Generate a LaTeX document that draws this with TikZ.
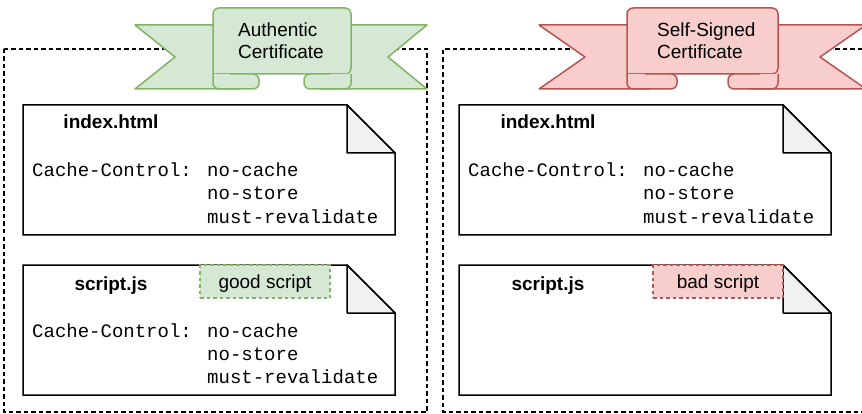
\documentclass[tikz,border=0pt]{standalone}
\usepackage{fontspec}
\setmainfont{Liberation Sans}
\setmonofont{Liberation Mono}
\definecolor{greenfill}{HTML}{D5E8D4}
\definecolor{greenline}{HTML}{82B366}
\definecolor{redfill}{HTML}{F8CECC}
\definecolor{redline}{HTML}{B85450}
\definecolor{foldgray}{HTML}{F1F1F1}

\begin{document}
\begin{tikzpicture}[x=1pt,y=-1pt,
  side_box/.style={draw,line width=1.4pt,dash pattern=on 4.5pt off 3pt},
  note_box/.style={draw,line width=1.5pt,fill=white},
  fold_box/.style={draw,line width=1.5pt,fill=foldgray,line join=round},
  good_rib/.style={draw=greenline,fill=greenfill,line width=1.5pt,line join=round},
  bad_rib/.style={draw=redline,fill=redfill,line width=1.5pt,line join=round},
  rib_text/.style={anchor=base west,inner sep=0pt,font=\fontsize{19}{23}\selectfont},
  file_name/.style={anchor=base,inner sep=0pt,font=\fontsize{19}{23}\selectfont\bfseries},
  head_text/.style={anchor=base west,inner sep=0pt,font=\fontsize{19}{23}\selectfont\ttfamily},
  tag_box/.style={dash pattern=on 3.5pt off 3pt,line width=1.3pt,minimum width=130pt,minimum height=33pt,inner sep=0pt,text depth=0pt,font=\fontsize{19}{23}\selectfont}]
	    \useasboundingbox (0,0) rectangle (862,414);

	    \draw[side_box] (4,49) rectangle (427,412);
	    \draw[side_box] (862,49) -- (443,49) -- (443,412) -- (862,412);

	    \draw[good_rib] (135,25) -- (240,25) -- (240,89) -- (135,89) -- (175,57) -- cycle;
	    \draw[good_rib] (427,25) -- (320,25) -- (320,89) -- (427,89) -- (388,57) -- cycle;
	    \draw[good_rib] (213,74) -- (213,30) [rounded corners=6pt] -- (213,8) -- (351,8) -- (351,74) [sharp corners] -- cycle;
	    \draw[good_rib,rounded corners=6pt] (213,74) -- (213,89) -- (259,89) -- (259,74) -- (230,74);
	    \draw[good_rib,rounded corners=6pt] (351,74) -- (351,89) -- (304,89) -- (304,74) -- (330,74);
	    \node[rib_text] (auth1) at (238,37) {Authentic};
	    \node[rib_text] (auth2) at (238,59) {Certificate};

	    \draw[bad_rib] (539,25) -- (650,25) -- (650,89) -- (539,89) -- (585,57) -- cycle;
	    \draw[bad_rib] (866,25) -- (750,25) -- (750,89) -- (866,89) -- (820,57) -- cycle;
	    \draw[bad_rib] (627,74) -- (627,30) [rounded corners=6pt] -- (627,8) -- (778,8) -- (778,74) [sharp corners] -- cycle;
	    \draw[bad_rib,rounded corners=6pt] (627,74) -- (627,89) -- (677,89) -- (677,74) -- (645,74);
	    \draw[bad_rib,rounded corners=6pt] (778,74) -- (778,89) -- (728,89) -- (728,74) -- (760,74);
	    \node[rib_text] (self1) at (657,37) {Self-Signed};
	    \node[rib_text] (self2) at (657,59) {Certificate};

	    \draw[note_box] (23,105) -- (347,105) -- (395,153) -- (395,235) -- (23,235) -- cycle;
	    \draw[fold_box] (347,105) -- (347,153) -- (395,153) -- cycle;
	    \node[file_name] (idx1) at (111,129) {index.html};
	    \node[head_text] (cc1) at (32,177) {Cache-Control:};
	    \node[head_text] (nc1) at (207,177) {no-cache};
	    \node[head_text] (ns1) at (207,200) {no-store};
	    \node[head_text] (mr1) at (207,223) {must-revalidate};

	    \draw[note_box] (23,265) -- (347,265) -- (395,313) -- (395,395) -- (23,395) -- cycle;
	    \draw[fold_box] (347,265) -- (347,313) -- (395,313) -- cycle;
	    \node[file_name] (js1) at (111,290) {script.js};
	    \node[tag_box,draw=greenline,fill=greenfill] (good) at (265,281.5) {good script};
	    \node[head_text] (cc2) at (32,337) {Cache-Control:};
	    \node[head_text] (nc2) at (207,337) {no-cache};
	    \node[head_text] (ns2) at (207,360) {no-store};
	    \node[head_text] (mr2) at (207,383) {must-revalidate};

	    \draw[note_box] (459,105) -- (783,105) -- (831,153) -- (831,235) -- (459,235) -- cycle;
	    \draw[fold_box] (783,105) -- (783,153) -- (831,153) -- cycle;
	    \node[file_name] (idx2) at (548,129) {index.html};
	    \node[head_text] (cc3) at (468,177) {Cache-Control:};
	    \node[head_text] (nc3) at (643,177) {no-cache};
	    \node[head_text] (ns3) at (643,200) {no-store};
	    \node[head_text] (mr3) at (643,223) {must-revalidate};

	    \draw[note_box] (459,265) -- (783,265) -- (831,313) -- (831,395) -- (459,395) -- cycle;
	    \draw[fold_box] (783,265) -- (783,313) -- (831,313) -- cycle;
	    \node[file_name] (js2) at (548,290) {script.js};
	    \node[tag_box,draw=redline,fill=redfill] (bad) at (718,281.5) {bad script};
        \end{tikzpicture}
\end{document}
